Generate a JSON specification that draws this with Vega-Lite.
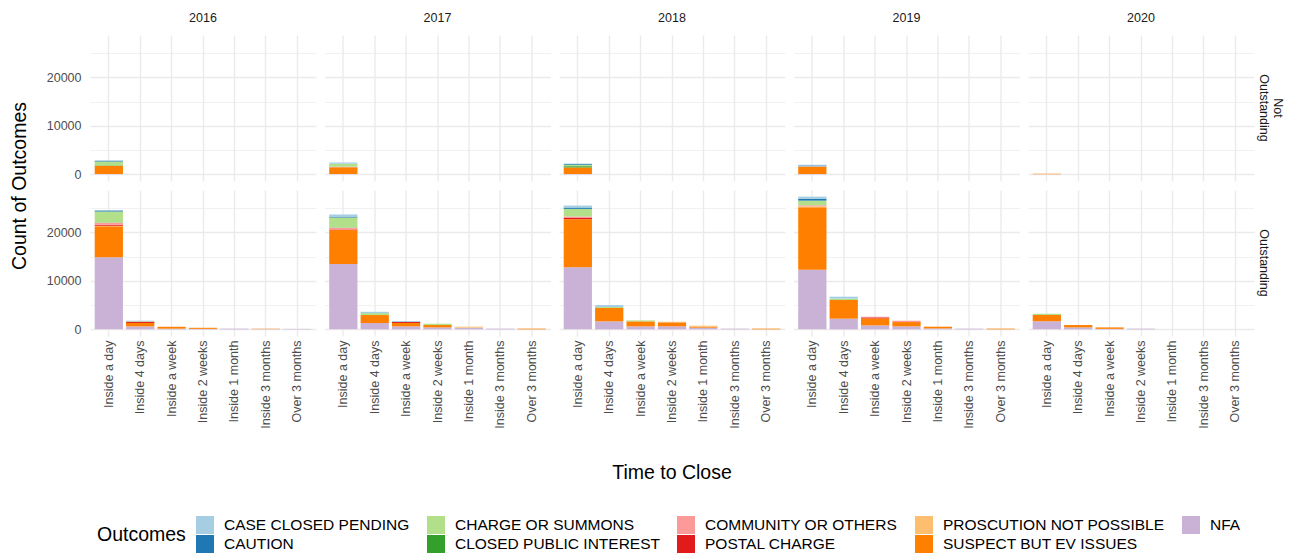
{
  "$schema": "https://vega.github.io/schema/vega-lite/v6.json",
  "background": "white",
  "padding": {"left": 9, "top": 11, "right": 5, "bottom": 0},
  "datasets": {
    "d": [
      {"year": 2016, "status": "Not Outstanding", "time": "Inside a day", "outcome": "NFA", "count": 100},
      {"year": 2016, "status": "Not Outstanding", "time": "Inside a day", "outcome": "SUSPECT BUT EV ISSUES", "count": 1650},
      {"year": 2016, "status": "Not Outstanding", "time": "Inside a day", "outcome": "CHARGE OR SUMMONS", "count": 800},
      {"year": 2016, "status": "Not Outstanding", "time": "Inside a day", "outcome": "CLOSED PUBLIC INTEREST", "count": 100},
      {"year": 2016, "status": "Not Outstanding", "time": "Inside a day", "outcome": "CAUTION", "count": 150},
      {"year": 2016, "status": "Not Outstanding", "time": "Inside a day", "outcome": "CASE CLOSED PENDING", "count": 50},
      {"year": 2017, "status": "Not Outstanding", "time": "Inside a day", "outcome": "NFA", "count": 80},
      {"year": 2017, "status": "Not Outstanding", "time": "Inside a day", "outcome": "SUSPECT BUT EV ISSUES", "count": 1400},
      {"year": 2017, "status": "Not Outstanding", "time": "Inside a day", "outcome": "COMMUNITY OR OTHERS", "count": 80},
      {"year": 2017, "status": "Not Outstanding", "time": "Inside a day", "outcome": "CHARGE OR SUMMONS", "count": 650},
      {"year": 2017, "status": "Not Outstanding", "time": "Inside a day", "outcome": "CASE CLOSED PENDING", "count": 250},
      {"year": 2018, "status": "Not Outstanding", "time": "Inside a day", "outcome": "NFA", "count": 80},
      {"year": 2018, "status": "Not Outstanding", "time": "Inside a day", "outcome": "SUSPECT BUT EV ISSUES", "count": 1350},
      {"year": 2018, "status": "Not Outstanding", "time": "Inside a day", "outcome": "CLOSED PUBLIC INTEREST", "count": 250},
      {"year": 2018, "status": "Not Outstanding", "time": "Inside a day", "outcome": "CHARGE OR SUMMONS", "count": 300},
      {"year": 2018, "status": "Not Outstanding", "time": "Inside a day", "outcome": "CAUTION", "count": 150},
      {"year": 2018, "status": "Not Outstanding", "time": "Inside a day", "outcome": "CASE CLOSED PENDING", "count": 100},
      {"year": 2019, "status": "Not Outstanding", "time": "Inside a day", "outcome": "NFA", "count": 80},
      {"year": 2019, "status": "Not Outstanding", "time": "Inside a day", "outcome": "SUSPECT BUT EV ISSUES", "count": 1450},
      {"year": 2019, "status": "Not Outstanding", "time": "Inside a day", "outcome": "COMMUNITY OR OTHERS", "count": 100},
      {"year": 2019, "status": "Not Outstanding", "time": "Inside a day", "outcome": "CHARGE OR SUMMONS", "count": 50},
      {"year": 2019, "status": "Not Outstanding", "time": "Inside a day", "outcome": "CAUTION", "count": 150},
      {"year": 2019, "status": "Not Outstanding", "time": "Inside a day", "outcome": "CASE CLOSED PENDING", "count": 150},
      {"year": 2020, "status": "Not Outstanding", "time": "Inside a day", "outcome": "SUSPECT BUT EV ISSUES", "count": 150},

      {"year": 2016, "status": "Outstanding", "time": "Inside a day", "outcome": "NFA", "count": 14850},
      {"year": 2016, "status": "Outstanding", "time": "Inside a day", "outcome": "SUSPECT BUT EV ISSUES", "count": 6390},
      {"year": 2016, "status": "Outstanding", "time": "Inside a day", "outcome": "PROSCUTION NOT POSSIBLE", "count": 100},
      {"year": 2016, "status": "Outstanding", "time": "Inside a day", "outcome": "POSTAL CHARGE", "count": 200},
      {"year": 2016, "status": "Outstanding", "time": "Inside a day", "outcome": "COMMUNITY OR OTHERS", "count": 400},
      {"year": 2016, "status": "Outstanding", "time": "Inside a day", "outcome": "CLOSED PUBLIC INTEREST", "count": 50},
      {"year": 2016, "status": "Outstanding", "time": "Inside a day", "outcome": "CHARGE OR SUMMONS", "count": 2270},
      {"year": 2016, "status": "Outstanding", "time": "Inside a day", "outcome": "CAUTION", "count": 200},
      {"year": 2016, "status": "Outstanding", "time": "Inside a day", "outcome": "CASE CLOSED PENDING", "count": 150},
      {"year": 2016, "status": "Outstanding", "time": "Inside 4 days", "outcome": "NFA", "count": 620},
      {"year": 2016, "status": "Outstanding", "time": "Inside 4 days", "outcome": "SUSPECT BUT EV ISSUES", "count": 700},
      {"year": 2016, "status": "Outstanding", "time": "Inside 4 days", "outcome": "POSTAL CHARGE", "count": 200},
      {"year": 2016, "status": "Outstanding", "time": "Inside 4 days", "outcome": "COMMUNITY OR OTHERS", "count": 100},
      {"year": 2016, "status": "Outstanding", "time": "Inside 4 days", "outcome": "CHARGE OR SUMMONS", "count": 80},
      {"year": 2016, "status": "Outstanding", "time": "Inside 4 days", "outcome": "CAUTION", "count": 50},
      {"year": 2016, "status": "Outstanding", "time": "Inside a week", "outcome": "NFA", "count": 150},
      {"year": 2016, "status": "Outstanding", "time": "Inside a week", "outcome": "SUSPECT BUT EV ISSUES", "count": 350},
      {"year": 2016, "status": "Outstanding", "time": "Inside a week", "outcome": "PROSCUTION NOT POSSIBLE", "count": 60},
      {"year": 2016, "status": "Outstanding", "time": "Inside 2 weeks", "outcome": "NFA", "count": 100},
      {"year": 2016, "status": "Outstanding", "time": "Inside 2 weeks", "outcome": "SUSPECT BUT EV ISSUES", "count": 200},
      {"year": 2016, "status": "Outstanding", "time": "Inside 2 weeks", "outcome": "PROSCUTION NOT POSSIBLE", "count": 50},
      {"year": 2016, "status": "Outstanding", "time": "Inside 1 month", "outcome": "NFA", "count": 150},
      {"year": 2016, "status": "Outstanding", "time": "Inside 3 months", "outcome": "NFA", "count": 50},
      {"year": 2016, "status": "Outstanding", "time": "Inside 3 months", "outcome": "SUSPECT BUT EV ISSUES", "count": 80},
      {"year": 2016, "status": "Outstanding", "time": "Over 3 months", "outcome": "NFA", "count": 100},

      {"year": 2017, "status": "Outstanding", "time": "Inside a day", "outcome": "NFA", "count": 13450},
      {"year": 2017, "status": "Outstanding", "time": "Inside a day", "outcome": "SUSPECT BUT EV ISSUES", "count": 7000},
      {"year": 2017, "status": "Outstanding", "time": "Inside a day", "outcome": "POSTAL CHARGE", "count": 100},
      {"year": 2017, "status": "Outstanding", "time": "Inside a day", "outcome": "COMMUNITY OR OTHERS", "count": 400},
      {"year": 2017, "status": "Outstanding", "time": "Inside a day", "outcome": "CLOSED PUBLIC INTEREST", "count": 50},
      {"year": 2017, "status": "Outstanding", "time": "Inside a day", "outcome": "CHARGE OR SUMMONS", "count": 2060},
      {"year": 2017, "status": "Outstanding", "time": "Inside a day", "outcome": "CAUTION", "count": 100},
      {"year": 2017, "status": "Outstanding", "time": "Inside a day", "outcome": "CASE CLOSED PENDING", "count": 480},
      {"year": 2017, "status": "Outstanding", "time": "Inside 4 days", "outcome": "NFA", "count": 1300},
      {"year": 2017, "status": "Outstanding", "time": "Inside 4 days", "outcome": "SUSPECT BUT EV ISSUES", "count": 1650},
      {"year": 2017, "status": "Outstanding", "time": "Inside 4 days", "outcome": "CHARGE OR SUMMONS", "count": 400},
      {"year": 2017, "status": "Outstanding", "time": "Inside 4 days", "outcome": "CASE CLOSED PENDING", "count": 270},
      {"year": 2017, "status": "Outstanding", "time": "Inside a week", "outcome": "NFA", "count": 620},
      {"year": 2017, "status": "Outstanding", "time": "Inside a week", "outcome": "SUSPECT BUT EV ISSUES", "count": 690},
      {"year": 2017, "status": "Outstanding", "time": "Inside a week", "outcome": "POSTAL CHARGE", "count": 200},
      {"year": 2017, "status": "Outstanding", "time": "Inside a week", "outcome": "CAUTION", "count": 80},
      {"year": 2017, "status": "Outstanding", "time": "Inside 2 weeks", "outcome": "NFA", "count": 410},
      {"year": 2017, "status": "Outstanding", "time": "Inside 2 weeks", "outcome": "SUSPECT BUT EV ISSUES", "count": 480},
      {"year": 2017, "status": "Outstanding", "time": "Inside 2 weeks", "outcome": "CHARGE OR SUMMONS", "count": 270},
      {"year": 2017, "status": "Outstanding", "time": "Inside 1 month", "outcome": "NFA", "count": 350},
      {"year": 2017, "status": "Outstanding", "time": "Inside 1 month", "outcome": "PROSCUTION NOT POSSIBLE", "count": 200},
      {"year": 2017, "status": "Outstanding", "time": "Inside 3 months", "outcome": "NFA", "count": 150},
      {"year": 2017, "status": "Outstanding", "time": "Over 3 months", "outcome": "SUSPECT BUT EV ISSUES", "count": 150},

      {"year": 2018, "status": "Outstanding", "time": "Inside a day", "outcome": "NFA", "count": 12790},
      {"year": 2018, "status": "Outstanding", "time": "Inside a day", "outcome": "SUSPECT BUT EV ISSUES", "count": 9900},
      {"year": 2018, "status": "Outstanding", "time": "Inside a day", "outcome": "POSTAL CHARGE", "count": 250},
      {"year": 2018, "status": "Outstanding", "time": "Inside a day", "outcome": "COMMUNITY OR OTHERS", "count": 300},
      {"year": 2018, "status": "Outstanding", "time": "Inside a day", "outcome": "CHARGE OR SUMMONS", "count": 1580},
      {"year": 2018, "status": "Outstanding", "time": "Inside a day", "outcome": "CAUTION", "count": 270},
      {"year": 2018, "status": "Outstanding", "time": "Inside a day", "outcome": "CASE CLOSED PENDING", "count": 410},
      {"year": 2018, "status": "Outstanding", "time": "Inside 4 days", "outcome": "NFA", "count": 1650},
      {"year": 2018, "status": "Outstanding", "time": "Inside 4 days", "outcome": "SUSPECT BUT EV ISSUES", "count": 2750},
      {"year": 2018, "status": "Outstanding", "time": "Inside 4 days", "outcome": "CHARGE OR SUMMONS", "count": 200},
      {"year": 2018, "status": "Outstanding", "time": "Inside 4 days", "outcome": "CASE CLOSED PENDING", "count": 400},
      {"year": 2018, "status": "Outstanding", "time": "Inside a week", "outcome": "NFA", "count": 620},
      {"year": 2018, "status": "Outstanding", "time": "Inside a week", "outcome": "SUSPECT BUT EV ISSUES", "count": 1030},
      {"year": 2018, "status": "Outstanding", "time": "Inside a week", "outcome": "CHARGE OR SUMMONS", "count": 200},
      {"year": 2018, "status": "Outstanding", "time": "Inside 2 weeks", "outcome": "NFA", "count": 620},
      {"year": 2018, "status": "Outstanding", "time": "Inside 2 weeks", "outcome": "SUSPECT BUT EV ISSUES", "count": 820},
      {"year": 2018, "status": "Outstanding", "time": "Inside 2 weeks", "outcome": "PROSCUTION NOT POSSIBLE", "count": 130},
      {"year": 2018, "status": "Outstanding", "time": "Inside 1 month", "outcome": "NFA", "count": 350},
      {"year": 2018, "status": "Outstanding", "time": "Inside 1 month", "outcome": "SUSPECT BUT EV ISSUES", "count": 200},
      {"year": 2018, "status": "Outstanding", "time": "Inside 1 month", "outcome": "PROSCUTION NOT POSSIBLE", "count": 200},
      {"year": 2018, "status": "Outstanding", "time": "Inside 3 months", "outcome": "NFA", "count": 150},
      {"year": 2018, "status": "Outstanding", "time": "Over 3 months", "outcome": "SUSPECT BUT EV ISSUES", "count": 150},

      {"year": 2019, "status": "Outstanding", "time": "Inside a day", "outcome": "NFA", "count": 12300},
      {"year": 2019, "status": "Outstanding", "time": "Inside a day", "outcome": "SUSPECT BUT EV ISSUES", "count": 12850},
      {"year": 2019, "status": "Outstanding", "time": "Inside a day", "outcome": "PROSCUTION NOT POSSIBLE", "count": 200},
      {"year": 2019, "status": "Outstanding", "time": "Inside a day", "outcome": "COMMUNITY OR OTHERS", "count": 210},
      {"year": 2019, "status": "Outstanding", "time": "Inside a day", "outcome": "CHARGE OR SUMMONS", "count": 960},
      {"year": 2019, "status": "Outstanding", "time": "Inside a day", "outcome": "CAUTION", "count": 340},
      {"year": 2019, "status": "Outstanding", "time": "Inside a day", "outcome": "CASE CLOSED PENDING", "count": 480},
      {"year": 2019, "status": "Outstanding", "time": "Inside 4 days", "outcome": "NFA", "count": 2200},
      {"year": 2019, "status": "Outstanding", "time": "Inside 4 days", "outcome": "SUSPECT BUT EV ISSUES", "count": 3850},
      {"year": 2019, "status": "Outstanding", "time": "Inside 4 days", "outcome": "CHARGE OR SUMMONS", "count": 270},
      {"year": 2019, "status": "Outstanding", "time": "Inside 4 days", "outcome": "CASE CLOSED PENDING", "count": 410},
      {"year": 2019, "status": "Outstanding", "time": "Inside a week", "outcome": "NFA", "count": 820},
      {"year": 2019, "status": "Outstanding", "time": "Inside a week", "outcome": "SUSPECT BUT EV ISSUES", "count": 1440},
      {"year": 2019, "status": "Outstanding", "time": "Inside a week", "outcome": "POSTAL CHARGE", "count": 200},
      {"year": 2019, "status": "Outstanding", "time": "Inside a week", "outcome": "COMMUNITY OR OTHERS", "count": 140},
      {"year": 2019, "status": "Outstanding", "time": "Inside 2 weeks", "outcome": "NFA", "count": 620},
      {"year": 2019, "status": "Outstanding", "time": "Inside 2 weeks", "outcome": "SUSPECT BUT EV ISSUES", "count": 890},
      {"year": 2019, "status": "Outstanding", "time": "Inside 2 weeks", "outcome": "COMMUNITY OR OTHERS", "count": 270},
      {"year": 2019, "status": "Outstanding", "time": "Inside 1 month", "outcome": "NFA", "count": 200},
      {"year": 2019, "status": "Outstanding", "time": "Inside 1 month", "outcome": "SUSPECT BUT EV ISSUES", "count": 350},
      {"year": 2019, "status": "Outstanding", "time": "Inside 3 months", "outcome": "NFA", "count": 150},
      {"year": 2019, "status": "Outstanding", "time": "Over 3 months", "outcome": "SUSPECT BUT EV ISSUES", "count": 150},

      {"year": 2020, "status": "Outstanding", "time": "Inside a day", "outcome": "NFA", "count": 1650},
      {"year": 2020, "status": "Outstanding", "time": "Inside a day", "outcome": "SUSPECT BUT EV ISSUES", "count": 1300},
      {"year": 2020, "status": "Outstanding", "time": "Inside a day", "outcome": "CHARGE OR SUMMONS", "count": 270},
      {"year": 2020, "status": "Outstanding", "time": "Inside 4 days", "outcome": "NFA", "count": 410},
      {"year": 2020, "status": "Outstanding", "time": "Inside 4 days", "outcome": "SUSPECT BUT EV ISSUES", "count": 480},
      {"year": 2020, "status": "Outstanding", "time": "Inside a week", "outcome": "NFA", "count": 100},
      {"year": 2020, "status": "Outstanding", "time": "Inside a week", "outcome": "SUSPECT BUT EV ISSUES", "count": 300},
      {"year": 2020, "status": "Outstanding", "time": "Inside 2 weeks", "outcome": "NFA", "count": 150}
    ]
  },
  "data": {"name": "d"},
  "transform": [
    {"calculate": "indexof(['NFA','SUSPECT BUT EV ISSUES','PROSCUTION NOT POSSIBLE','POSTAL CHARGE','COMMUNITY OR OTHERS','CLOSED PUBLIC INTEREST','CHARGE OR SUMMONS','CAUTION','CASE CLOSED PENDING'], datum.outcome)", "as": "stackOrder"}
  ],
  "facet": {
    "column": {"field": "year", "type": "ordinal", "title": "Time to Close",
      "header": {"titleOrient": "bottom", "labelOrient": "top", "labelFontSize": 12.5, "labelColor": "#1a1a1a", "labelFont": "Liberation Sans", "labelPadding": 11,
        "titleFontSize": 19.5, "titleColor": "#000000", "titleFontWeight": "normal", "titleFont": "Liberation Sans", "titlePadding": 25}},
    "row": {"field": "status", "type": "nominal", "title": "Count of Outcomes",
      "header": {"titleOrient": "left", "labelOrient": "right", "labelAngle": 90, "labelFontSize": 12.5, "labelColor": "#1a1a1a", "labelFont": "Liberation Sans", "labelExpr": "split(datum.value, ' ')", "labelPadding": 3,
        "titleFontSize": 19.5, "titleColor": "#000000", "titleFontWeight": "normal", "titleFont": "Liberation Sans", "titlePadding": 6}}
  },
  "spacing": {"row": 9, "column": 8.5},
  "spec": {
    "width": 226,
    "height": 146,
    "mark": {"type": "bar"},
    "encoding": {
      "x": {
        "field": "time", "type": "nominal",
        "sort": ["Inside a day", "Inside 4 days", "Inside a week", "Inside 2 weeks", "Inside 1 month", "Inside 3 months", "Over 3 months"],
        "scale": {"paddingInner": 0.1, "paddingOuter": 0.15},
        "title": null,
        "axis": {"labelAngle": -90, "bandPosition": 0.5, "labelPadding": 4}
      },
      "y": {
        "field": "count", "type": "quantitative", "stack": "zero",
        "scale": {"domain": [-1367, 28707], "nice": false, "zero": false},
        "title": null,
        "axis": {
          "values": [0, 5000, 10000, 15000, 20000, 25000],
          "labelExpr": "datum.value % 10000 == 0 ? format(datum.value, 'd') : ''",
          "labelPadding": 9,
          "gridColor": "#ebebeb",
          "gridWidth": {"condition": {"test": "datum.value % 10000 == 0", "value": 1.4}, "value": 0.7}
        }
      },
      "color": {
        "field": "outcome", "type": "nominal", "title": "Outcomes",
        "scale": {
          "domain": ["CASE CLOSED PENDING", "CHARGE OR SUMMONS", "COMMUNITY OR OTHERS", "PROSCUTION NOT POSSIBLE", "NFA", "CAUTION", "CLOSED PUBLIC INTEREST", "POSTAL CHARGE", "SUSPECT BUT EV ISSUES"],
          "range": ["#a6cee3", "#b2df8a", "#fb9a99", "#fdbf6f", "#cab2d6", "#1f78b4", "#33a02c", "#e31a1c", "#ff7f00"]
        },
        "legend": {
          "orient": "none", "legendX": 7, "legendY": 481, "direction": "horizontal", "columns": 5, "titleOrient": "left", "titleAnchor": "middle",
          "symbolType": "square", "symbolSize": 324, "symbolStrokeWidth": 0, "symbolOpacity": 1,
          "labelFontSize": 15.5, "titleFontSize": 19.5, "labelColor": "#000000", "titleColor": "#000000", "labelLimit": 500, "labelOffset": 10,
          "gridAlign": "each", "columnPadding": 17, "rowPadding": 1, "titlePadding": 10,
          "labelFont": "Liberation Sans", "titleFont": "Liberation Sans", "titleFontWeight": "normal"
        }
      },
      "order": {"field": "stackOrder", "type": "quantitative", "sort": "ascending"}
    }
  },
  "config": {
    "view": {"stroke": null},
    "font": "Liberation Sans",
    "axis": {
      "domain": false, "ticks": false, "gridColor": "#ebebeb", "gridWidth": 1.4,
      "labelFontSize": 12.5, "labelColor": "#4d4d4d", "labelFont": "Liberation Sans"
    },
    "axisX": {"grid": true}
  }
}
